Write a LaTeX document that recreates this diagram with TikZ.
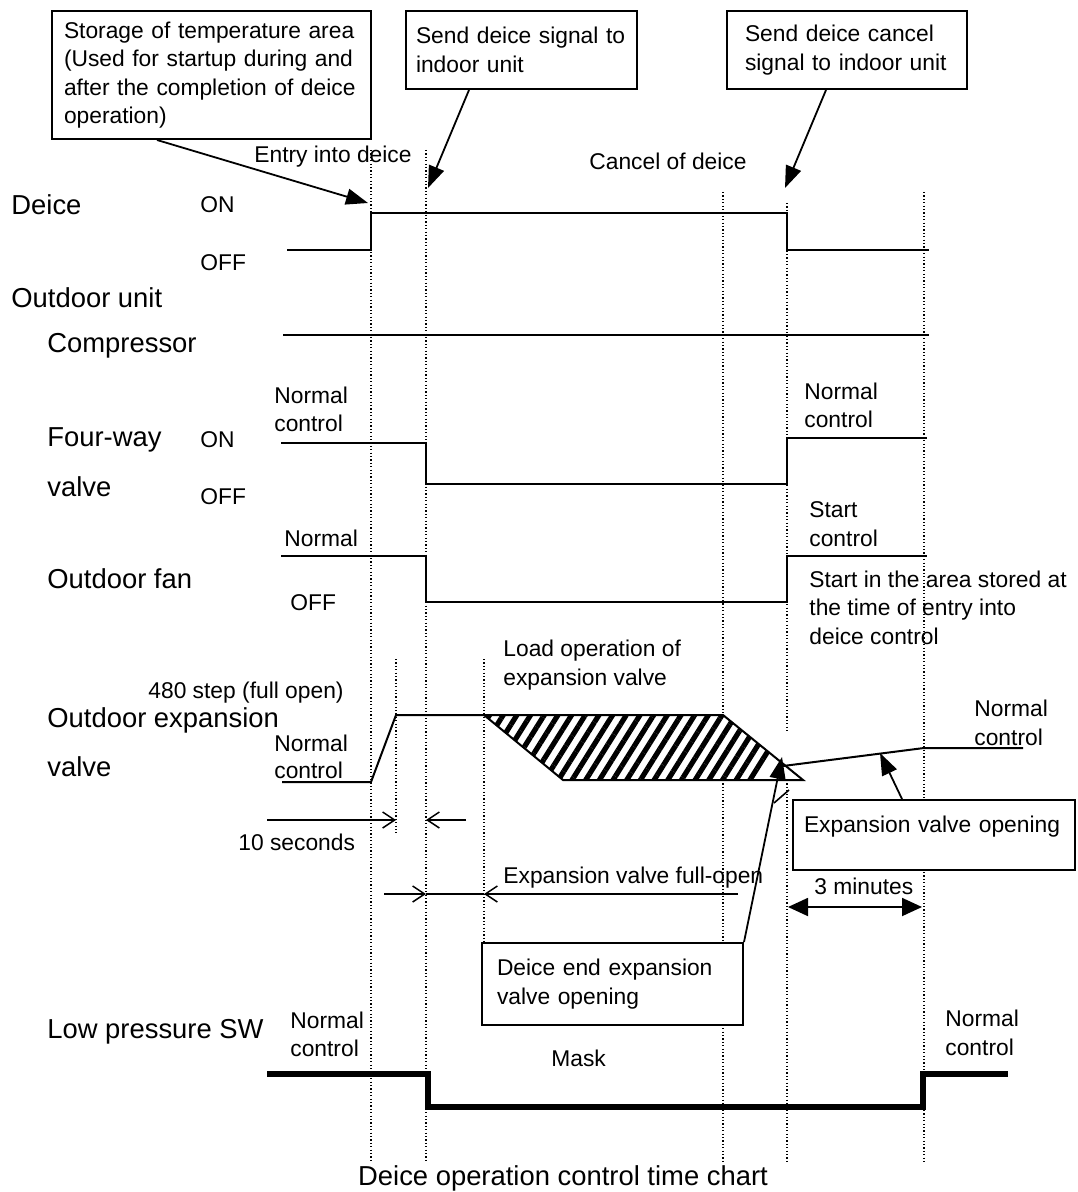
\documentclass[tikz,border=0pt]{standalone}
\usepackage{fontspec}
\setmainfont{Liberation Sans}
\usetikzlibrary{arrows.meta,positioning,calc,patterns.meta}
\newcommand{\tsmall}{\fontsize{11.4pt}{14.25pt}\selectfont}
\newcommand{\tbig}{\fontsize{13.7pt}{16pt}\selectfont}
\tikzset{
  sig/.style={line width=1pt},
  guide/.style={line width=0.6pt, dash pattern=on 0.6pt off 1.1pt},
  lbl/.style={anchor=west, inner sep=0pt, align=left, font=\tsmall},
  head/.style={anchor=west, inner sep=0pt, font=\tbig},
  callout/.style={rectangle, draw, line width=1pt, fill=white, anchor=north west,
                  align=left, font=\tsmall, inner ysep=0pt},
  arr/.style={-{Triangle[length=11pt,width=8pt]}, line width=0.9pt},
  barb/.style={-{Straight Barb[length=6pt,width=8pt]}, line width=0.75pt},
  hatch/.style={pattern={Lines[angle=58,distance=5.8pt,line width=2.6pt]}},
}

\begin{document}
\begin{tikzpicture}[x=0.5pt,y=-0.5pt]
  \useasboundingbox (0,0) rectangle (1077,1192);

  % time marks
  \draw[guide] (371,150) -- (371,1162);
  \draw[guide] (426,150) -- (426,1162);
  \draw[guide] (723,192) -- (723,715) (723,780) -- (723,1162);
  \draw[guide] (787,203) -- (787,731) (787,780) -- (787,1162);
  \draw[guide] (924,192) -- (924,1162);
  \draw[guide] (396,659) -- (396,833);
  \draw[guide] (484,659) -- (484,942);

  % signals
  \draw[sig] (287,250) -- (371,250) -- (371,213) -- (787,213) -- (787,250) -- (929,250);
  \draw[sig] (283,335) -- (929,335);
  \draw[sig] (281,443) -- (426,443) -- (426,484) -- (787,484) -- (787,438) -- (927,438);
  \draw[sig] (281,556) -- (426,556) -- (426,602) -- (787,602) -- (787,556) -- (927,556);
  \draw[sig] (282,782) -- (371,782) -- (396,715) -- (484,715);
  \fill[white] (484,715) -- (723,715) -- (803,780) -- (563,780) -- cycle;
  \fill[hatch] (484,715) -- (723,715) -- (770,754) -- (764,770) -- (760,780) -- (563,780) -- cycle;
  \draw[sig] (484,715) -- (723,715) -- (803,780) -- (563,780) -- cycle;
  \draw[sig] (1023,748) -- (924,748) -- (783,766);
  \draw[line width=0.8pt] (774,803) -- (789,790);
  \draw[line width=2.6pt] (267,1074) -- (428,1074) -- (428,1107) -- (923,1107) -- (923,1074) -- (1008,1074);

  % row labels
  \node[head] (hdeice) at (11,205) {Deice};
  \node[lbl] (don) at (200,205) {ON};
  \node[lbl] (doff) at (200,263) {OFF};
  \node[head] (hout) at (11,298) {Outdoor unit};
  \node[head] (hcomp) at (47,346) {Compressor};
  \node[lbl] (fvnorm) at (274,409.5) {Normal\\control};
  \node[head] (hfv) at (47,440) {Four-way};
  \node[lbl] (fvon) at (200,440) {ON};
  \node[head] (hfv2) at (47,487) {valve};
  \node[lbl] (fvoff) at (200,497) {OFF};
  \node[lbl] (fannorm) at (284,538) {Normal};
  \node[head] (hfan) at (47,579) {Outdoor fan};
  \node[lbl] (fanoff) at (290,603) {OFF};
  \node[lbl] (fvback) at (804,405.5) {Normal\\control};
  \node[lbl] (fanstart) at (809,524) {Start\\control};
  \node[lbl] (fanarea) at (809,607.5) {Start in the area stored at\\the time of entry into\\deice control};
  \node[lbl] (load) at (503,665) {Load operation of\\expansion valve};
  \node[lbl] (full) at (148,693) {480 step (full open)};
  \node[head] (hev) at (47,720) {Outdoor expansion};
  \node[head] (hev2) at (47,767) {valve};
  \node[lbl] (evnorm) at (274,756.5) {Normal\\[-0.75pt]control};
  \node[lbl] (evback) at (974,723) {Normal\\control};
  \node[lbl] (tensec) at (238,842) {10 seconds};
  \node[lbl] (fullopen) at (503,878) {Expansion valve full-open};
  \node[lbl] (threemin) at (814,886) {3 minutes};
  \node[head] (hlp) at (47,1032) {Low pressure SW};
  \node[lbl] (lpnorm) at (290,1034.5) {Normal\\control};
  \node[lbl] (mask) at (551,1058) {Mask};
  \node[lbl] (lpback) at (945,1033) {Normal\\control};
  \node[lbl] (entrytxt) at (254,157) {Entry into deice};
  \node[lbl] (canceltxt) at (589,161) {Cancel of deice};
  \node[font=\tbig, inner sep=0pt] (title) at (563,1178) {Deice operation control time chart};

  % boxes
  \node[callout, text width=147.5pt, inner xsep=6pt, minimum height=64pt] (store) at (51,10)
    {Storage of temperature area\\(Used for startup during and\\after the completion of deice\\operation)};
  \node[callout, text width=105.5pt, inner xsep=5pt, minimum height=39pt] (sendon) at (405,10)
    {Send deice signal to\\indoor unit};
  \node[callout, text width=102pt, inner xsep=9pt, minimum height=39pt] (sendoff) at (726,10)
    {Send deice cancel\\signal to indoor unit};
  \node[callout, text width=130pt, inner xsep=5.5pt, minimum height=35pt] (evopen) at (792,799)
    {Expansion valve opening\\[-3pt]\mbox{}};
  \node[callout, text width=115.5pt, inner xsep=7.5pt, minimum height=41pt] (endopen) at (481,942)
    {Deice end expansion\\valve opening};

  % pointers
  \coordinate (entry) at (368,203);
  \coordinate (sendtip) at (428,188);
  \coordinate (canceltip) at (785,188);
  \coordinate (hatchtip) at (782,757);
  \coordinate (slope) at (880,753);
  \draw[arr] ([xshift=53pt]store.south west) -- (entry);
  \draw[arr] ([xshift=32pt]sendon.south west) -- (sendtip);
  \draw[arr] ([xshift=50pt]sendoff.south west) -- (canceltip);
  \draw[arr] (endopen.north east) -- (hatchtip);
  \draw[arr] ([xshift=55pt]evopen.north west) -- (slope);

  % durations
  \coordinate (t0) at (267,820); \coordinate (t1) at (396,820);
  \coordinate (t2) at (466,820); \coordinate (t3) at (426,820);
  \draw[barb] (t0) -- (t1); \draw[barb] (t2) -- (t3);
  \coordinate (f0) at (384,894); \coordinate (f1) at (426,894);
  \coordinate (f2) at (484,894); \coordinate (f3) at (738,894);
  \draw[barb] (f0) -- (f1); \draw[line width=0.75pt] (f1) -- (f2); \draw[barb] (f3) -- (f2);
  \coordinate (m0) at (788,907); \coordinate (m1) at (922,907);
  \draw[{Triangle[length=10pt,width=9pt]}-{Triangle[length=10pt,width=9pt]}, line width=0.9pt] (m0) -- (m1);
\end{tikzpicture}
\end{document}
